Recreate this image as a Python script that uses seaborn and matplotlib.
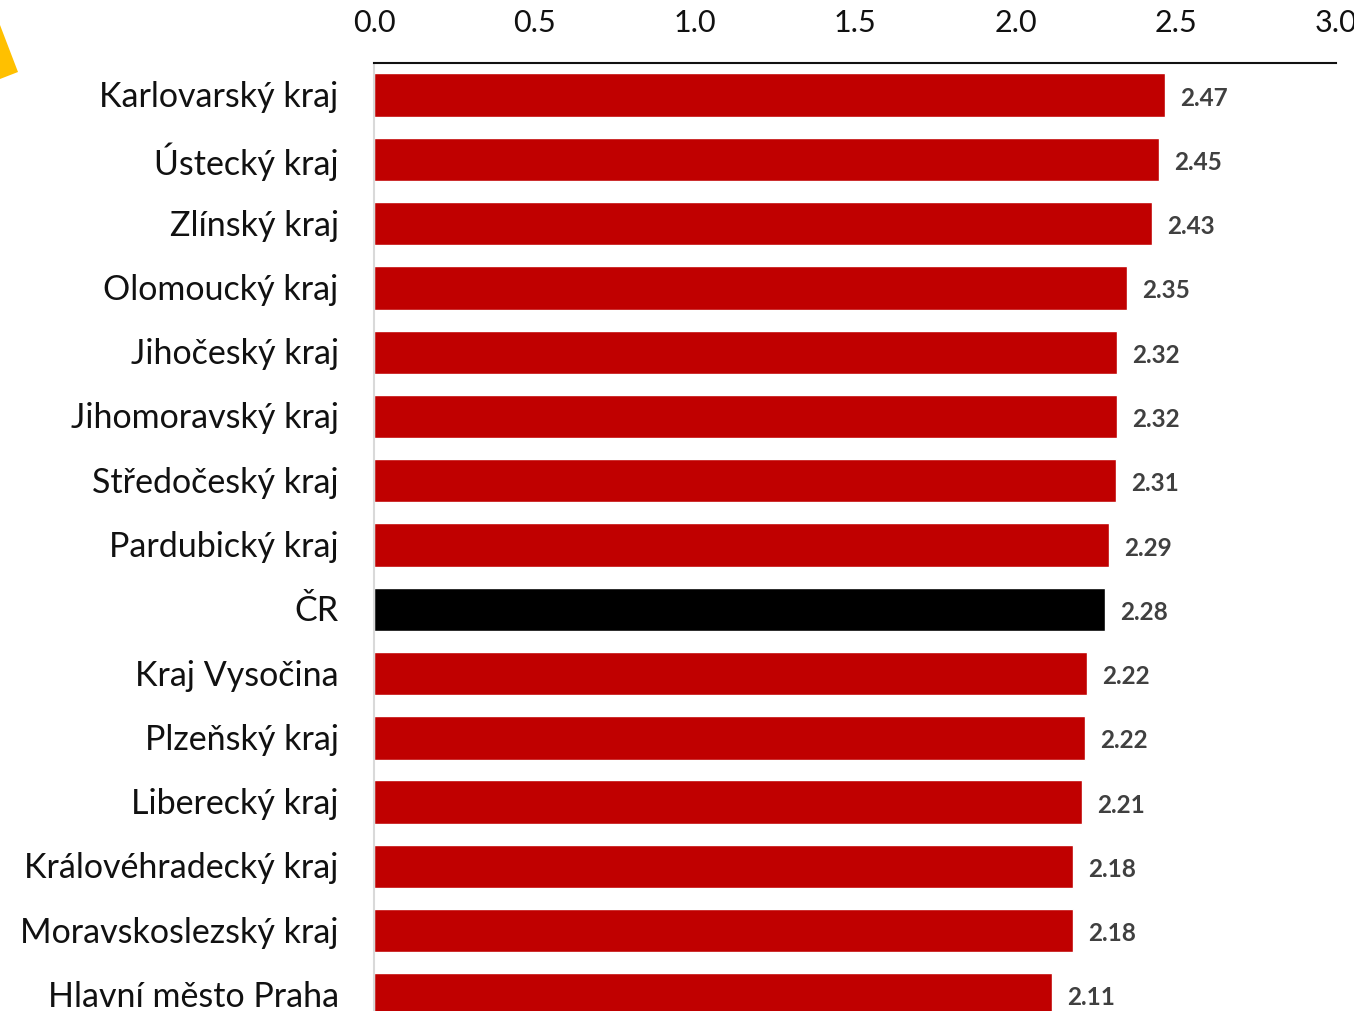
import matplotlib
matplotlib.use("Agg")
import matplotlib.pyplot as plt
from matplotlib.patches import Polygon
from matplotlib.transforms import ScaledTranslation
import seaborn as sns
import pandas as pd

regions = ["Karlovarský kraj", "Ústecký kraj", "Zlínský kraj", "Olomoucký kraj",
           "Jihočeský kraj", "Jihomoravský kraj", "Středočeský kraj", "Pardubický kraj",
           "ČR", "Kraj Vysočina", "Plzeňský kraj", "Liberecký kraj",
           "Královéhradecký kraj", "Moravskoslezský kraj", "Hlavní město Praha"]
values = [2.466, 2.448, 2.426, 2.348, 2.317, 2.317, 2.313, 2.292,
          2.279, 2.223, 2.217, 2.207, 2.179, 2.179, 2.114]
x_ticks = [0.0, 0.5, 1.0, 1.5, 2.0, 2.5, 3.0]

sns.set_theme(style="white")
plt.rcParams['font.family'] = ['Lato', 'DejaVu Sans']

W, H = 1354, 1012
fig = plt.figure(figsize=(W / 100, H / 100), dpi=100)
ax = fig.add_axes([374.5 / W, 0, (1336 - 374.5) / W, (H - 64) / H])

df = pd.DataFrame({"region": regions, "value": values})
palette = {r: ("#000000" if r == "ČR" else "#C00000") for r in regions}
sns.barplot(data=df, y="region", x="value", hue="region", palette=palette,
            order=regions, width=0.675, legend=False, ax=ax, saturation=1)

ax.set_xlim(0, 3.0)
ax.set_ylim(14.25, -0.5)
ax.set_xlabel("")
ax.set_ylabel("")
ax.xaxis.tick_top()
ax.set_xticks(x_ticks)
ax.set_xticklabels([f"{t:.1f}" for t in x_ticks])
ax.tick_params(axis="x", length=0, pad=19.5, labelsize=22, colors="#111111")
ax.tick_params(axis="y", length=0, pad=25.8, labelsize=24.5, colors="#111111")

shift = ScaledTranslation(0, 2 / 100, fig.dpi_scale_trans)
for lab in ax.get_yticklabels():
    lab.set_transform(lab.get_transform() + shift)

for s in ["right", "bottom"]:
    ax.spines[s].set_visible(False)
ax.spines["top"].set_color("#111111")
ax.spines["top"].set_linewidth(1.5)
ax.spines["left"].set_color("#D9D9D9")
ax.spines["left"].set_linewidth(1.5)

for i, v in enumerate(values):
    ax.annotate(f"{v:.2f}", xy=(v, i), xytext=(15, -2), textcoords="offset pixels",
                ha="left", va="center", fontsize=17.5, fontweight="bold", color="#404040")

tri = Polygon([(0, 1 - 26 / H), (18 / W, 1 - 73 / H), (0, 1 - 80 / H)],
              closed=True, transform=fig.transFigure, facecolor="#FFC000",
              edgecolor="none", clip_on=False)
fig.add_artist(tri)

fig.savefig("out.png", dpi=100)
